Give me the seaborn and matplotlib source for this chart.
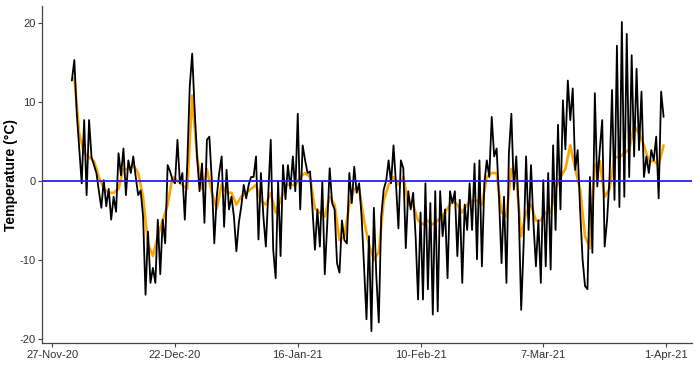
import matplotlib
matplotlib.use("Agg")
import matplotlib.pyplot as plt
import pandas as pd
import seaborn as sns

# black series: readings every 12 h from 1-Dec-2020 00:00
black_temp = [
    12.7, 15.3, 8.5, 4.0, -0.3, 7.7, -1.8, 7.7, 3.0, 2.0,          # Dec 1-5
    1.0, -1.3, -3.4, 0.1, -3.2, -1.0, -4.9, -2.0, -3.9, 3.5,       # Dec 6-10
    0.7, 4.1, -1.8, 2.6, 1.0, 3.1, 0.5, -1.8, -1.2, -4.5,          # Dec 11-15
    -14.4, -6.4, -12.9, -11.0, -12.9, -4.9, -11.8, -4.9, -7.9, 2.0,  # Dec 16-20
    1.2, 0.1, -0.3, 5.2, -0.3, 1.0, -4.9, 2.2, 11.9, 16.1,         # Dec 21-25
    9.0, 3.0, -1.3, 2.2, -5.3, 5.2, 5.6, 0.0, -7.9, -2.0,          # Dec 26-30
    1.0, 3.1, -5.8, 1.4, -3.6, -2.0, -4.5, -8.9, -5.3, -3.2,       # Dec 31-Jan 4
    -0.5, -2.2, -0.5, 0.5, 0.5, 3.1, -7.4, 1.0, -4.5, -8.3,        # Jan 5-9
    -1.5, 5.2, -8.7, -12.3, 0.0, -9.5, 2.0, -2.3, 2.0, -1.0,       # Jan 10-14
    3.1, -1.3, 8.5, -3.6, 4.5, 2.6, 1.0, 1.2, -3.6, -8.7,          # Jan 15-19
    -3.6, -8.3, -0.1, -11.8, -5.5, 1.6, -2.8, -3.6, -10.4, -11.6,  # Jan 20-24
    -5.0, -7.5, -7.9, 1.0, -2.8, 1.8, -1.5, -0.3, -4.5, -10.8,     # Jan 25-29
    -17.5, -7.0, -19.0, -3.4, -12.0, -17.9, -4.5, -1.1, 0.0, 2.6,  # Jan 30-Feb 3
    -0.3, 4.5, -0.3, -6.0, 2.6, 1.6, -8.5, -1.3, -3.6, -1.5,       # Feb 4-8
    -7.0, -15.0, -4.0, -15.0, -0.3, -13.7, -2.8, -16.9, -1.3, -16.5,  # Feb 9-13
    -1.3, -7.0, -3.6, -12.3, -1.3, -2.8, -1.3, -9.5, -2.4, -12.9,  # Feb 14-18
    -3.0, -6.2, -0.3, -6.2, 2.2, -9.9, 2.6, -10.8, -0.3, 2.6,      # Feb 19-23
    0.5, 8.1, 3.1, 4.1, -2.4, -10.4, -2.0, -12.9, 3.5, 8.5,        # Feb 24-28
    -1.1, 3.1, -3.6, -16.3, -8.0, 3.1, -6.2, 2.0, -5.3, -10.8,     # Mar 1-5
    -5.0, -12.9, 0.1, -10.8, 1.0, -11.2, 4.5, -6.2, 7.1, -3.6,     # Mar 6-10
    10.2, 4.0, 12.7, 7.7, 11.7, 1.4, 3.9, -3.6, -9.9, -13.3,       # Mar 11-15
    -13.7, 0.5, -9.1, 11.1, -0.7, 3.9, 7.7, -8.3, -4.9, 0.5,       # Mar 16-20
    11.5, -2.4, 17.1, -3.3, 20.1, -2.0, 18.6, 0.5, 15.9, 3.1,      # Mar 21-25
    14.2, 3.9, 11.3, 0.5, 3.1, 1.0, 3.9, 2.6, 5.6, -2.2,           # Mar 26-30
    11.3, 8.1,                                                      # Mar 31
]

# orange series: one reading a day at noon from 1-Dec-2020
orange_temp = [
    13.0, 6.0, 3.5, 3.0, 2.5, 0.5, -1.0, -1.5, -1.5, -1.0,     # Dec 1-10
    1.5, 1.5, 2.0, 1.0, -2.0, -8.0, -9.5, -7.0, -5.0, -3.0,    # Dec 11-20
    0.5, 0.0, -0.5, -1.0, 10.8, 3.0, -1.0, 1.5, -1.5, -3.5,    # Dec 21-30
    -0.5, -1.5, -1.5, -3.0, -2.0, -1.5, -1.0, -0.5, -2.5, -3.0,  # Dec 31-Jan 9
    -1.5, -4.0, -2.5, -0.5, -0.5, -0.5, 0.5, 1.0, 0.5, -3.5,   # Jan 10-19
    -4.0, -4.5, -2.0, -3.0, -7.5, -7.0, -3.0, -1.0, -1.0, -5.0,  # Jan 20-29
    -8.0, -10.0, -9.0, -2.5, -0.5, 0.5, -0.5, 0.5, -3.0, -3.0,   # Jan 30-Feb 8
    -5.0, -5.5, -5.0, -5.5, -5.0, -4.5, -3.5, -2.5, -3.0, -4.0,  # Feb 9-18
    -3.0, -2.5, -2.5, -3.0, 0.5, 1.0, 1.0, -4.0, -4.5, 1.5,    # Feb 19-28
    0.5, -7.0, -4.0, -3.0, -5.0, -5.0, -4.0, -4.0, -1.0, 0.5,  # Mar 1-10
    1.5, 4.5, 1.5, -1.0, -7.0, -8.5, 2.0, 2.5, -2.0, -1.0,     # Mar 11-20
    3.0, 3.0, 3.5, 4.0, 7.0, 6.0, 4.5, 2.5, 2.5, 2.0, 4.5,     # Mar 21-31
]

tick_dates = ["2020-11-27", "2020-12-22", "2021-01-16", "2021-02-10", "2021-03-07", "2021-04-01"]
tick_labels = ["27-Nov-20", "22-Dec-20", "16-Jan-21", "10-Feb-21", "7-Mar-21", "1-Apr-21"]
y_ticks = [-20, -10, 0, 10, 20]

black_df = pd.DataFrame({
    "time": pd.date_range("2020-12-01 00:00", periods=len(black_temp), freq="12h"),
    "temp": black_temp,
})
orange_df = pd.DataFrame({
    "time": pd.date_range("2020-12-01 12:00", periods=len(orange_temp), freq="D"),
    "temp": orange_temp,
})

sns.set_style("ticks")
plt.rcParams["font.family"] = ["Liberation Sans", "DejaVu Sans"]

fig = plt.figure(figsize=(7, 3.84), dpi=100)
ax = fig.add_axes([0.0606, 0.1068, 0.928, 0.877])

sns.lineplot(data=orange_df, x="time", y="temp", color="#FFA500", linewidth=1.9, ax=ax)
sns.lineplot(data=black_df, x="time", y="temp", color="black", linewidth=1.3, ax=ax)
ax.axhline(0, color="#2B1BFF", linewidth=1.3, zorder=3)

ax.set_xlim(pd.Timestamp("2020-11-25"), pd.Timestamp("2021-04-06 07:00"))
ax.set_ylim(-20.5, 22.1)
ax.set_xticks(pd.to_datetime(tick_dates))
ax.set_xticklabels(tick_labels)
ax.set_yticks(y_ticks)
ax.set_yticklabels([str(v) for v in y_ticks])

ax.set_xlabel("")
ax.set_ylabel("Temperature (°C)", fontsize=10, fontweight="bold", color="black", labelpad=1)
ax.tick_params(axis="both", labelsize=8, labelcolor="#333333", color="#444444",
               length=3, width=0.8, direction="out", pad=2)

sns.despine(ax=ax)
for side in ["left", "bottom"]:
    ax.spines[side].set_color("#444444")
    ax.spines[side].set_linewidth(0.9)

fig.savefig("out.png", dpi=100)
plt.close(fig)
